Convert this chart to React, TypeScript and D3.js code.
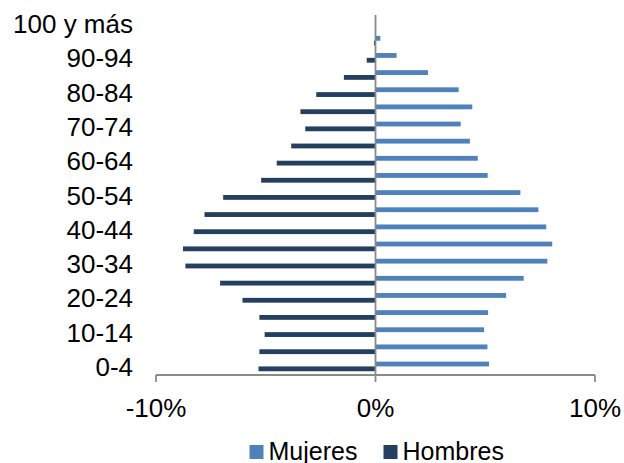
import React from "react";
import * as d3 from "d3";

const categories = [
  "0-4", "5-9", "10-14", "15-19", "20-24", "25-29", "30-34", "35-39", "40-44",
  "45-49", "50-54", "55-59", "60-64", "65-69", "70-74", "75-79", "80-84",
  "85-89", "90-94", "95-99", "100 y más",
];
const mujeres = [
  5.17, 5.1, 4.95, 5.13, 5.95, 6.75, 7.83, 8.05, 7.78, 7.42, 6.6, 5.11, 4.66,
  4.3, 3.88, 4.41, 3.79, 2.39, 0.96, 0.22, 0.02,
];
const hombres = [
  -5.33, -5.29, -5.05, -5.29, -6.06, -7.08, -8.66, -8.77, -8.28, -7.79, -6.94,
  -5.21, -4.5, -3.84, -3.2, -3.42, -2.7, -1.44, -0.4, -0.07, -0.01,
];
const seriesNames = ["Mujeres", "Hombres"];
const seriesColors = ["#4F81BD", "#243F60"];
const xTicks = [-10, 0, 10];

const W = 624;
const H = 463;
const FONT = "'Liberation Sans', Arial, sans-serif";
const FS = 26;

export default function App() {
  const x = d3.scaleLinear().domain([-10, 10]).range([156, 595]);
  const y = d3.scaleBand<string>().domain(categories).range([375, 15]);
  const bw = y.bandwidth();
  const inner = d3
    .scaleBand<string>()
    .domain(seriesNames)
    .range([0, bw])
    .paddingInner(0)
    .paddingOuter(0.78);
  const seriesData = [mujeres, hombres];
  const axisColor = "#8a8a8a";

  return (
    <svg
      width={W}
      height={H}
      style={{ position: "absolute", left: 0, top: 0, background: "#fff" }}
      fontFamily={FONT}
    >
      {seriesData.map((vals, si) =>
        vals.map((v, i) => {
          const cat = categories[i];
          const y0 = (y(cat) as number) + (inner(seriesNames[si]) as number);
          return (
            <rect
              key={`${si}-${i}`}
              x={Math.min(x(0), x(v))}
              y={y0}
              width={Math.abs(x(v) - x(0))}
              height={inner.bandwidth()}
              fill={seriesColors[si]}
            />
          );
        })
      )}
      <line x1={x(0)} x2={x(0)} y1={15} y2={375} stroke={axisColor} strokeWidth={1.8} />
      <line x1={x(-10)} x2={x(10)} y1={375} y2={375} stroke={axisColor} strokeWidth={1.8} />
      {xTicks.map((t) => (
        <g key={t}>
          <line x1={x(t)} x2={x(t)} y1={375} y2={382} stroke={axisColor} strokeWidth={1.8} />
          <text x={x(t)} y={417} textAnchor="middle" fontSize={FS} fill="#000">
            {`${t}%`}
          </text>
        </g>
      ))}
      {categories.map((c, i) =>
        i % 2 === 0 ? (
          <text
            key={c}
            x={133}
            y={(y(c) as number) + bw / 2 + 9.5}
            textAnchor="end"
            fontSize={FS}
            fill="#000"
          >
            {c}
          </text>
        ) : null
      )}
      {seriesNames.map((s, i) => {
        const lx = [249.5, 383.5][i];
        return (
          <g key={s}>
            <rect x={lx} y={445} width={14} height={14} fill={seriesColors[i]} />
            <text x={lx + 19} y={460} fontSize={FS - 1} fill="#000">
              {s}
            </text>
          </g>
        );
      })}
    </svg>
  );
}
